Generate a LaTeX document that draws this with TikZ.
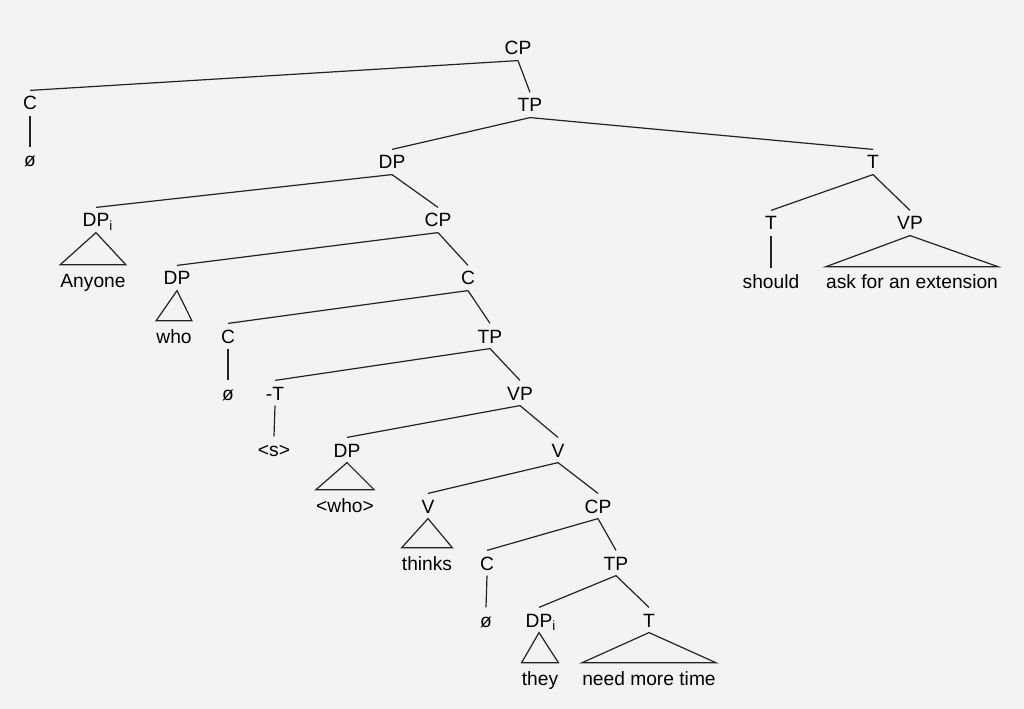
\documentclass[tikz,border=0pt]{standalone}
\usepackage{fontspec}
\setmainfont{Liberation Sans}
\usepackage{tikz}

\begin{document}
\begin{tikzpicture}[x=0.75pt,y=0.75pt,yscale=-1,xscale=1,
  lbl/.style={inner xsep=0pt,inner ysep=4pt,text height=10.5pt,text depth=0pt,font=\fontsize{14.4}{17}\selectfont},
  leaf/.style={lbl,inner ysep=6pt},
  edge/.style={draw={rgb, 255:red, 35; green, 35; blue, 35 },line width=0.9pt}]
%set diagram to the size of the photo
\fill [fill={rgb, 255:red, 243; green, 243; blue, 243 }] (0,0) rectangle (1024,709);
\useasboundingbox (0,0) rectangle (1024,709);

% Text Node
\draw (518,48) node [lbl] (cp) {CP};
% Text Node
\draw (30,103) node [lbl] (c) {C};
% Text Node
\draw (30,160) node [lbl] (nul) {ø};
% Text Node
\draw (530,105) node [lbl] (tp) {TP};
% Text Node
\draw (392,162) node [lbl] (dp) {DP};
% Text Node
\draw (873,162) node [lbl] (t) {T};
% Text Node
\draw (96,220) node [lbl] (dpi) {DP\rlap{\textsubscript{i}}};
% Text Node
\draw (93,280) node [leaf] (anyone) {Anyone};
% Text Node
\draw (438,220) node [lbl] (cpb) {CP};
% Text Node
\draw (771,223) node [lbl] (tb) {T};
% Text Node
\draw (771,281) node [lbl] (should) {should};
% Text Node
\draw (910,223) node [lbl] (vp) {VP};
% Text Node
\draw (912,282) node [leaf] (ask) {ask for an extension};
% Text Node
\draw (177,278) node [lbl] (dpw) {DP};
% Text Node
\draw (174,336) node [leaf] (who) {who};
% Text Node
\draw (468,278) node [lbl] (cc) {C};
% Text Node
\draw (228,336) node [lbl] (cd) {C};
% Text Node
\draw (228,393) node [lbl] (nulb) {ø};
% Text Node
\draw (490,336) node [lbl] (tpb) {TP};
% Text Node
\draw (275,393) node [lbl] (negt) {-T};
% Text Node
\draw (274,449) node [lbl] (s) {<s>};
% Text Node
\draw (520,393) node [lbl] (vpb) {VP};
% Text Node
\draw (347,450) node [lbl] (dpwho) {DP};
% Text Node
\draw (345,505) node [leaf] (whot) {<who>};
% Text Node
\draw (558,450) node [lbl] (vv) {V};
% Text Node
\draw (428,506) node [lbl] (vthinks) {V};
% Text Node
\draw (427,563) node [leaf] (thinks) {thinks};
% Text Node
\draw (598,506) node [lbl] (cpc) {CP};
% Text Node
\draw (487,563) node [lbl] (ce) {C};
% Text Node
\draw (486,620) node [lbl] (nulc) {ø};
% Text Node
\draw (616,563) node [lbl] (tpc) {TP};
% Text Node
\draw (539,620) node [lbl] (dpic) {DP\rlap{\textsubscript{i}}};
% Text Node
\draw (540,678) node [leaf] (they) {they};
% Text Node
\draw (649,620) node [lbl] (tc) {T};
% Text Node
\draw (649,678) node [leaf] (time) {need more time};

%Straight Lines
\draw [edge] (cp.south) -- (c.north);
\draw [edge] (cp.south) -- (tp.north);
\draw [edge] (c.south) -- (nul.north);
\draw [edge] (tp.south) -- (dp.north);
\draw [edge] (tp.south) -- (t.north);
\draw [edge] (dp.south) -- (dpi.north);
\draw [edge] (dp.south) -- (cpb.north);
\draw [edge] (t.south) -- (tb.north);
\draw [edge] (t.south) -- (vp.north);
\draw [edge] (tb.south) -- (should.north);
\draw [edge] (cpb.south) -- (dpw.north);
\draw [edge] (cpb.south) -- (cc.north);
\draw [edge] (cc.south) -- (cd.north);
\draw [edge] (cc.south) -- (tpb.north);
\draw [edge] (cd.south) -- (nulb.north);
\draw [edge] (tpb.south) -- (negt.north);
\draw [edge] (tpb.south) -- (vpb.north);
\draw [edge] (negt.south) -- (s.north);
\draw [edge] (vpb.south) -- (dpwho.north);
\draw [edge] (vpb.south) -- (vv.north);
\draw [edge] (vv.south) -- (vthinks.north);
\draw [edge] (vv.south) -- (cpc.north);
\draw [edge] (cpc.south) -- (ce.north);
\draw [edge] (cpc.south) -- (tpc.north);
\draw [edge] (ce.south) -- (nulc.north);
\draw [edge] (tpc.south) -- (dpic.north);
\draw [edge] (tpc.south) -- (tc.north);

%Shape: Triangle
\draw [edge] (dpi.south) -- (anyone.north west) -- (anyone.north east) -- cycle;
\draw [edge] (vp.south) -- (ask.north west) -- (ask.north east) -- cycle;
\draw [edge] (dpw.south) -- (who.north west) -- (who.north east) -- cycle;
\draw [edge] (dpwho.south) -- (whot.north west) -- (whot.north east) -- cycle;
\draw [edge] (vthinks.south) -- (thinks.north west) -- (thinks.north east) -- cycle;
\draw [edge] (dpic.south) -- (they.north west) -- (they.north east) -- cycle;
\draw [edge] (tc.south) -- (time.north west) -- (time.north east) -- cycle;

\end{tikzpicture}
\end{document}
